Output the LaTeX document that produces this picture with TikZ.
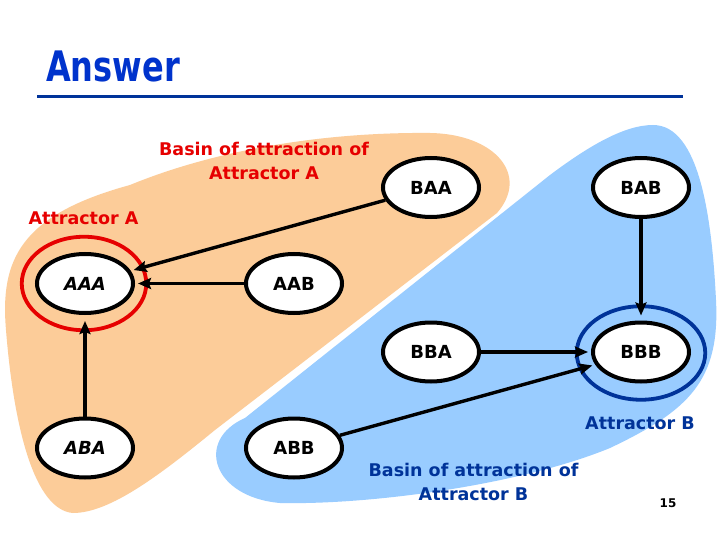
\documentclass[tikz,border=0pt]{standalone}
\usepackage{fontspec}
\setmainfont{DejaVu Sans}
\usetikzlibrary{shapes.geometric,arrows.meta}
\definecolor{peach}{RGB}{252,204,153}
\definecolor{skyb}{RGB}{153,204,255}
\definecolor{navy}{RGB}{0,51,153}
\definecolor{titleblue}{RGB}{0,51,204}
\definecolor{redA}{RGB}{230,0,0}
\begin{document}
\begin{tikzpicture}[x=1pt,y=-1pt,
 state/.style={ellipse, draw=black, fill=white, line width=4pt, minimum width=96pt, minimum height=59pt, inner sep=0pt, font=\fontsize{18}{20}\selectfont\bfseries},
 ring/.style={ellipse, line width=3.8pt, minimum height=93.5pt, inner sep=0pt},
 conn/.style={line width=3.4pt, -{Stealth[length=13pt,width=11pt,inset=2pt]}, shorten >=3pt},
 lbl/.style={font=\fontsize{17.5}{24}\selectfont\bfseries, align=center, inner sep=0pt}]
\fill[white] (0,0) rectangle (720,540);
\useasboundingbox (0,0) rectangle (720,540);
% basins
\fill[peach] (73,513) .. controls (35,510) and (14,430) .. (6,330)
  .. controls (0,260) and (20,215) .. (130,185)
  .. controls (220,148) and (330,132) .. (430,133)
  .. controls (495,134) and (530,175) .. (497,213)
  -- (215,430) .. controls (160,475) and (110,513) .. (73,513) -- cycle;
\fill[skyb] (653,125) .. controls (700,125) and (712,220) .. (716,300)
  .. controls (720,380) and (690,410) .. (610,448)
  .. controls (520,485) and (370,505) .. (280,503)
  .. controls (212,497) and (195,440) .. (245,418)
  -- (550,175) .. controls (590,145) and (625,125) .. (653,125) -- cycle;
% title
\node[anchor=base west, inner sep=0pt, text=titleblue] (title) at (46,82)
  {\scalebox{0.8}[1.05]{\fontsize{40}{48}\selectfont\bfseries Answer}};
\draw[navy, line width=3pt] (37,96.5) -- (683,96.5);
% rings
\node[ring, draw=redA, minimum width=124.5pt] (ringA) at (84,283.5) {};
\node[ring, draw=navy, minimum width=128.5pt] (ringB) at (641,353) {};
% states
\node[state] (AAA) at (85,283.5) {\itshape AAA};
\node[state] (AAB) at (294,283.5) {AAB};
\node[state] (BAA) at (431,187.5) {BAA};
\node[state] (BAB) at (641,187.5) {BAB};
\node[state] (BBA) at (431,352) {BBA};
\node[state] (BBB) at (641,352) {BBB};
\node[state] (ABA) at (85,448) {\itshape ABA};
\node[state] (ABB) at (294,448) {ABB};
% arrows
\draw[conn] (BAA) -- (AAA);
\draw[conn] (AAB) -- (AAA);
\draw[conn, shorten >=6pt] (ABA) -- (AAA);
\draw[conn, shorten >=5pt] (BAB) -- (BBB);
\draw[conn] (BBA) -- (BBB);
\draw[conn] (ABB) -- (BBB);
% labels
\node[lbl, text=redA] (basinA) at (264,160.5) {Basin of attraction of\\Attractor A};
\node[lbl, text=redA] (attrA) at (83.5,218) {Attractor A};
\node[lbl, text=navy] (attrB) at (640,423.5) {Attractor B};
\node[lbl, text=navy] (basinB) at (473.5,482.4) {Basin of attraction of\\Attractor B};
\node[inner sep=0pt, font=\fontsize{12}{14}\selectfont\bfseries] (page) at (668,503) {15};
\end{tikzpicture}
\end{document}
